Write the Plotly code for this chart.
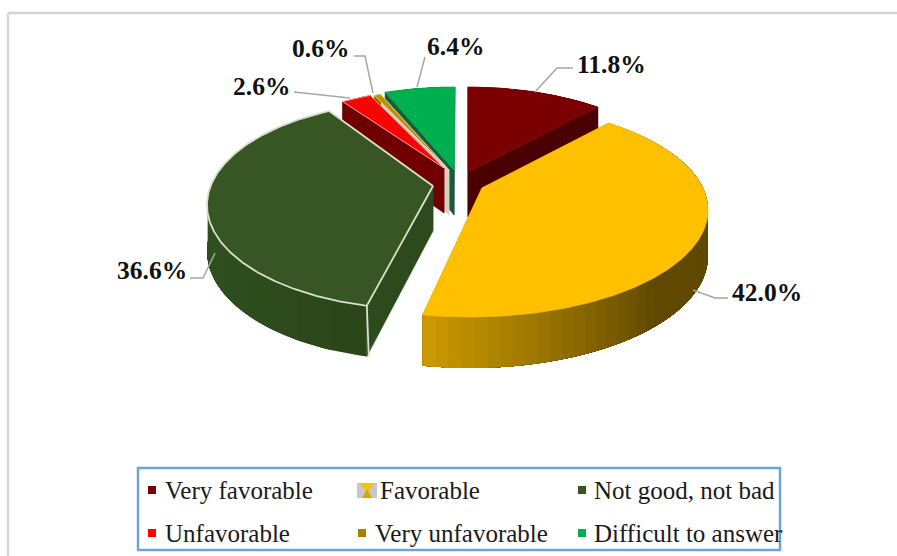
import numpy as np
import plotly.graph_objects as go

categories = ["Very favorable", "Favorable", "Not good, not bad", "Unfavorable", "Very unfavorable", "Difficult to answer"]
values = [11.8, 42.0, 36.6, 2.6, 0.6, 6.4]
value_labels = ["11.8%", "42.0%", "36.6%", "2.6%", "0.6%", "6.4%"]

top_colors = ["#7B0000", "#FFC000", "#375623", "#FF0000", "#BF8F00", "#00B050"]
side_colors = ["#4A0000", "#A87F00", "#2C4A1C", "#700000", "#D8D0C0", "#1C5A3C"]
wall_left = ["#4A0000", "#CC9A00", "#2F4F1E", "#700000", "#8A6800", "#1C5A3C"]
wall_right = ["#4A0000", "#5F4800", "#2A4519", "#700000", "#8A6800", "#1C5A3C"]
edge_colors = ["#7B0000", "#FFC000", "#D8E0D0", "#F2D8D8", "#E8D8B0", "#00B050"]

# exploded position of each slice on the page: rim centre, radii, apex, angle nudge
rim_cx = [468, 470, 420, 443, 447, 455]
rim_cy = [195, 210, 205, 194, 194, 192]
rim_rx = [223, 238, 213, 212, 212, 223]
rim_ry = [108, 107, 104, 105, 105, 105]
apex_x = [468, 482, 433, 444, 449, 454]
apex_y = [172, 188, 186, 168, 170, 170]
rim_shift = [0, 0, 3, 0, 0, 0]

# label positions (page pixels) and leader paths
label_x = [611, 767, 152, 261, 320, 455]
label_y = [64, 292, 270, 86, 48, 46]
leaders = [
    [(573, 68), (557, 68), (535, 92)],
    [(728, 298), (715, 298), (693, 290)],
    [(190, 278), (203, 278), (215, 253)],
    [(294, 92), (350, 98)],
    [(354, 56), (365, 56), (373, 93)],
    [(425, 57), (417, 87)],
]

legend_mx = [152, 367, 582, 152, 362, 582]
legend_tx = [163, 378, 592, 163, 373, 592]
legend_y = [490, 490, 490, 533, 533, 533]
legend_marker = ["#7B0000", "#E6B800", "#375623", "#FF0000", "#A87F00", "#00B050"]


def warp(deg):
    """Perspective shift of the pie angle on the tilted disc."""
    r = np.radians(deg)
    return deg - 1.7 * np.sin(r) - 5.7 * np.sin(2 * r)


def depth(t_deg):
    return 46.0 - 5.0 * np.cos(np.radians(t_deg))


def rim(i, t_deg):
    r = np.radians(t_deg)
    return rim_cx[i] + rim_rx[i] * np.sin(r), rim_cy[i] - rim_ry[i] * np.cos(r)


def hex_mix(a, b, f):
    ca = [int(a[k:k + 2], 16) for k in (1, 3, 5)]
    cb = [int(b[k:k + 2], 16) for k in (1, 3, 5)]
    return "#%02X%02X%02X" % tuple(round(x + (y - x) * f) for x, y in zip(ca, cb))


fig = go.Figure()


def poly(xs, ys, fill, line=None, width=1.0):
    fig.add_trace(go.Scatter(
        x=list(xs) + [xs[0]], y=list(ys) + [ys[0]], mode="lines", fill="toself",
        fillcolor=fill, line=dict(color=line or fill, width=width),
        hoverinfo="skip", showlegend=False))


cum = np.concatenate([[0], np.cumsum(values)]) / sum(values) * 360.0
draw_order = [5, 4, 3, 0, 2, 1]

for i in draw_order:
    a0, a1 = warp(cum[i]) + rim_shift[i], warp(cum[i + 1]) + rim_shift[i]
    ts = np.linspace(a0, a1, max(8, int((a1 - a0) * 1.5)))
    ax, ay = apex_x[i], apex_y[i]
    ad = 45.0
    # the two flat faces toward the apex
    for t in (a0, a1):
        x, y = rim(i, t)
        d = depth(t)
        poly([ax, x, x, ax], [ay, y, y + d, ay + ad], side_colors[i], width=0.5)
    # the outer curved wall, shaded from its far end to its near end; each band runs
    # on to the end of the wall so no seam shows between neighbouring bands
    n = 50 if i == 1 else 14
    tw = np.linspace(a0, a1, n + 1)
    for k in range(n):
        seg = np.linspace(tw[k], a1, 60)
        xs, ys = rim(i, seg)
        ds = depth(seg)
        mid = 0.5 * (tw[k] + tw[k + 1])
        if i == 1:
            f = np.clip((191 - mid) / 62.0, 0, 1)
        elif i == 2:
            f = 1 - np.clip((mid - 190) / 60.0, 0, 1)
        else:
            f = 0.0
        poly(list(xs) + list(xs[::-1]), list(ys) + list((ys + ds)[::-1]),
             hex_mix(wall_left[i], wall_right[i], f), width=0)
    # the top of the slice
    xs, ys = rim(i, ts)
    poly([ax] + list(xs), [ay] + list(ys), top_colors[i], line=edge_colors[i],
         width=1.8 if i == 2 else 0.8)
    if i == 2:  # pale edge down the near corner of the wall
        x, y = rim(i, a0)
        fig.add_trace(go.Scatter(x=[x, x + 2], y=[y, y + depth(a0)], mode="lines",
                                 line=dict(color="#D8E0D0", width=1.8),
                                 hoverinfo="skip", showlegend=False))

fig.add_trace(go.Scatter(
    x=legend_mx, y=legend_y, mode="markers", hoverinfo="skip", showlegend=False,
    marker=dict(symbol="square", size=8, color=legend_marker, opacity=[1, 0, 1, 1, 1, 1])))

annotations = []
for i, txt in enumerate(value_labels):
    annotations.append(dict(x=label_x[i], y=label_y[i], text=f"<b>{txt}</b>", showarrow=False,
                            xref="x", yref="y", xanchor="center", yanchor="middle",
                            font=dict(family="Liberation Serif", size=25.5, color="#111111")))
for i, txt in enumerate(categories):
    annotations.append(dict(x=legend_tx[i], y=legend_y[i], text=txt, showarrow=False,
                            xref="x", yref="y", xanchor="left", yanchor="middle",
                            font=dict(family="Liberation Serif", size=25, color="#1A1A1A")))

shapes = [
    dict(type="line", x0=8, y0=13, x1=897, y1=13, line=dict(color="#D4D4D4", width=2.5), layer="below"),
    dict(type="line", x0=8, y0=13, x1=8, y1=556, line=dict(color="#D9D9D9", width=2.5), layer="below"),
    dict(type="rect", x0=138, y0=468, x1=780, y1=550, line=dict(color="#6FA3DC", width=2.5),
         fillcolor="rgba(0,0,0,0)"),
]
for path in leaders:
    d = "M " + " L ".join(f"{x},{y}" for x, y in path)
    shapes.append(dict(type="path", path=d, line=dict(color="#A6A6A6", width=1.5)))

# small icon in the legend for Favorable (its key is drawn with a grey edge)
shapes.append(dict(type="path", path="M 357,483 L 377,483 L 377,498 L 357,498 Z",
                   fillcolor="#C8C8C8", line=dict(width=0)))
shapes.append(dict(type="path", path="M 359,483 L 375,483 L 367,492 Z",
                   fillcolor="#F5C400", line=dict(width=0)))
shapes.append(dict(type="path", path="M 362,498 L 372,498 L 367,489 Z",
                   fillcolor="#D8A800", line=dict(width=0)))

fig.update_layout(
    width=897, height=556, margin=dict(l=0, r=0, t=0, b=0),
    paper_bgcolor="white", plot_bgcolor="white", showlegend=False,
    xaxis=dict(range=[0, 897], visible=False, fixedrange=True),
    yaxis=dict(range=[556, 0], visible=False, fixedrange=True),
    annotations=annotations, shapes=shapes,
)
fig.write_html("out.html", config=dict(displayModeBar=False),
               post_script="document.body.style.margin='0';")
